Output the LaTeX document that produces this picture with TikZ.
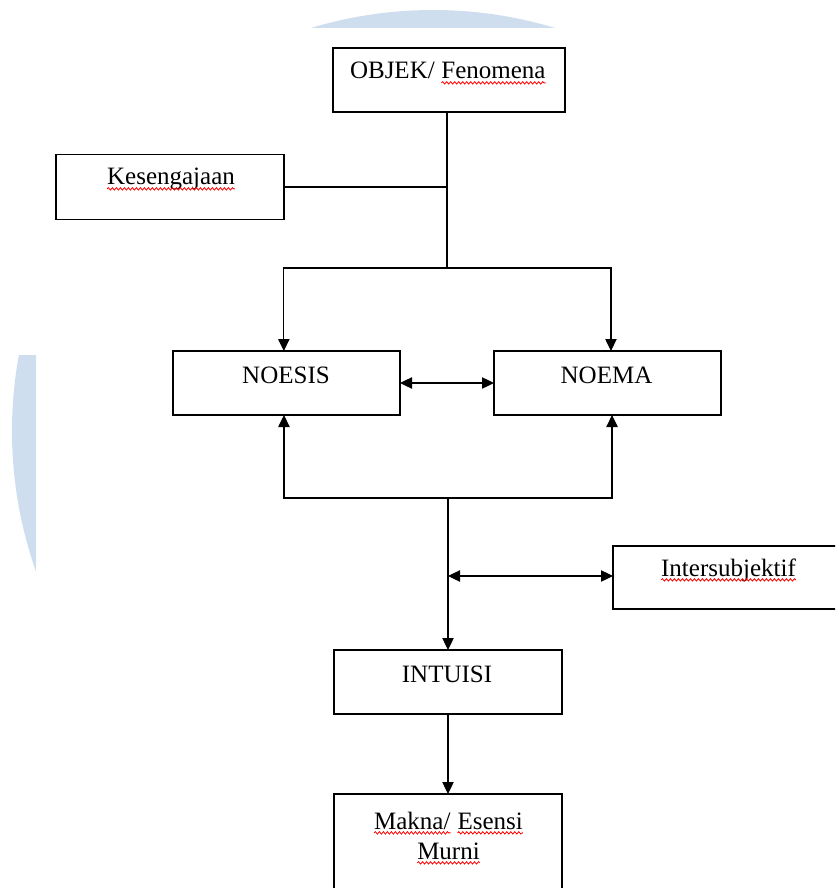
\documentclass[tikz,border=0pt]{standalone}
\usepackage{fontspec}
\setmainfont{Liberation Serif}
\usetikzlibrary{arrows.meta,decorations.pathmorphing,calc}
\definecolor{wm}{RGB}{207,222,238}
\newcommand\wv[1]{\tikz[baseline=(w.base)]{\node[inner sep=0pt,outer sep=0pt,anchor=base,draw=none](w){#1};\draw[red,line width=0.6pt,decorate,decoration={snake,amplitude=0.9pt,segment length=3pt}]([yshift=-2.9pt]w.base west)--([yshift=-2.9pt]w.base east);}}
\begin{document}
\begin{tikzpicture}[x=0.75pt,y=-0.75pt,
  box/.style={draw=black,line width=1pt,inner sep=0pt,outer sep=0pt},
  lbl/.style={font=\fontsize{18.75pt}{22.5pt}\selectfont,inner sep=0pt,anchor=base,align=center},
  con/.style={line width=0.9pt},
  arr/.style={con,-{Triangle[length=9pt,width=8.5pt]}},
  dbl/.style={con,{Triangle[length=9pt,width=8.5pt]}-{Triangle[length=9pt,width=8.5pt]}}]
\useasboundingbox (0,0) rectangle (835,888);
\clip (0,0) rectangle (835,888);
% watermark
\begin{scope}
\clip (311,0) rectangle (556,28) (0,355) rectangle (36,600);
\fill[wm] (433,431) circle[radius=421];
\end{scope}
% boxes
\node[box,minimum width=174pt,minimum height=48pt] (obj) at (449,80) {};
\node[box,minimum width=171pt,minimum height=48.75pt] (kes) at (170,187) {};
\node[box,minimum width=170.25pt,minimum height=48pt] (noesis) at (286.5,383) {};
\node[box,minimum width=170.25pt,minimum height=48pt] (noema) at (607.5,383) {};
\node[box,minimum width=174pt,minimum height=47.25pt] (inter) at (729,577.5) {};
\node[box,minimum width=171pt,minimum height=48pt] (intuisi) at (448,682) {};
\node[box,minimum width=171pt,minimum height=82.5pt] (makna) at (448,849) {};
% texts
\node[lbl] (tobj) at (448,79) {OBJEK/ \wv{Fenomena}};
\node[lbl] (tkes) at (171,185) {\wv{Kesengajaan}};
\node[lbl] (tnoesis) at (286,383) {NOESIS};
\node[lbl] (tnoema) at (606.5,383) {NOEMA};
\node[lbl] (tinter) at (728.5,576) {\wv{Intersubjektif}};
\node[lbl] (tintuisi) at (447,682) {INTUISI};
\node[lbl] (tmakna) at (448.5,859) {\wv{Makna/} \wv{Esensi}\\\wv{Murni}};
% connectors
\coordinate (top) at (447,268);
\coordinate (bot) at (448,498);
\coordinate (mid) at (448,576);
\draw[con] (obj.south -| top) -- (top);
\draw[con] (kes.east) -- (kes.east -| top);
\draw[arr] (top) -| ([xshift=-2pt]noesis.north);
\draw[arr] (top) -| ([xshift=2.6pt]noema.north);
\draw[arr] (bot) -| ([xshift=-1.9pt]noesis.south);
\draw[arr] (bot) -| ([xshift=3.4pt]noema.south);
\draw[arr] (bot) -- (intuisi.north);
\draw[dbl] (noesis) -- (noema);
\draw[dbl] (mid) -- (inter.west |- mid);
\draw[arr] (intuisi.south) -- (makna.north);
\end{tikzpicture}
\end{document}
